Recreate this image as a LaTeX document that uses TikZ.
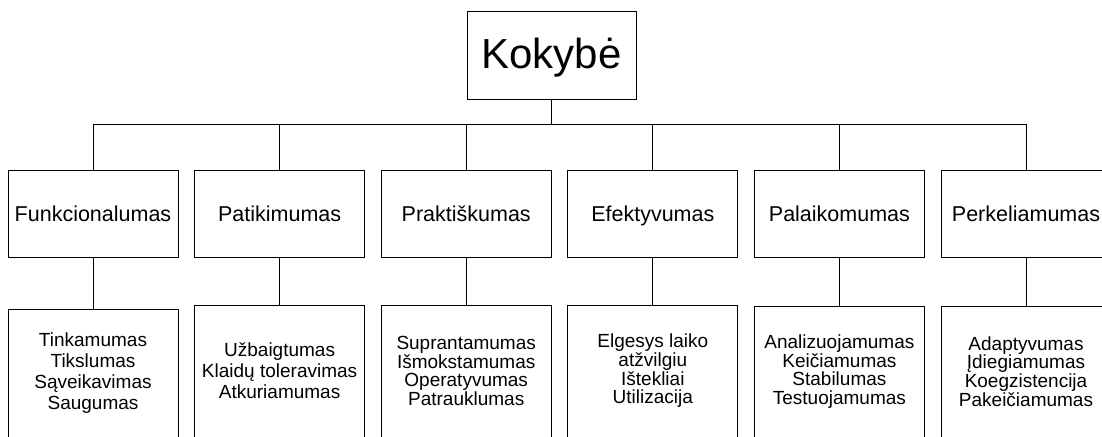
\documentclass[tikz,border=0pt]{standalone}
\usepackage{fontspec}
\setmainfont{Liberation Sans}
\begin{document}
\begin{tikzpicture}[x=1pt,y=-1pt,
  line width=1pt,
  every node/.style={inner sep=0pt, outer sep=0pt},
  rootbox/.style={draw, rectangle, minimum width=169pt, minimum height=87pt,
    text height=30pt, text depth=4pt,
    font=\fontsize{42}{48}\selectfont},
  groupbox/.style={draw, rectangle, minimum width=170pt, minimum height=87pt,
    text height=15.4pt, text depth=0pt,
    font=\fontsize{21.5}{25}\selectfont},
  leafbox/.style={draw, rectangle, minimum width=170pt, align=center,
    font=\fontsize{19}{#1}\selectfont},
  leafbox/.default=18.7,
  link/.style={draw, line width=1pt}]
\path[use as bounding box, clip] (0,0) rectangle (1102,436);

% root
\node[rootbox] (root) at (551.5,55.5) {Kokybė};

% characteristics
\node[groupbox] (c1) at (93,213.5)    {Funkcionalumas};
\node[groupbox] (c2) at (279.6,213.5) {Patikimumas};
\node[groupbox] (c3) at (466.2,213.5) {Praktiškumas};
\node[groupbox] (c4) at (652.8,213.5) {Efektyvumas};
\node[groupbox] (c5) at (839.4,213.5) {Palaikomumas};
\node[groupbox] (c6) at (1026,213.5)  {Perkeliamumas};

% sub-characteristics
\node[leafbox=21, minimum height=128pt] (s1) at (93,373)
  {Tinkamumas\\Tikslumas\\Sąveikavimas\\Saugumas};
\node[leafbox=21, minimum height=132pt] (s2) at (279.6,371)
  {Užbaigtumas\\Klaidų toleravimas\\Atkuriamumas};
\node[leafbox, minimum height=132pt] (s3) at (466.2,371)
  {Suprantamumas\\Išmokstamumas\\Operatyvumas\\Patrauklumas};
\node[leafbox, minimum height=132pt] (s4) at (652.8,371)
  {Elgesys laiko\\atžvilgiu\\Ištekliai\\Utilizacija};
\node[leafbox, minimum height=131pt] (s5) at (839.4,371.5)
  {Analizuojamumas\\Keičiamumas\\Stabilumas\\Testuojamumas};
\node[leafbox, minimum height=131pt] (s6) at (1026,371.5)
  {Adaptyvumas\\Įdiegiamumas\\Koegzistencija\\Pakeičiamumas};

% connectors
\coordinate (bus) at (0,124);
\path[link] (root.south) -- (root.south |- bus);
\path[link] (c1.north) -- (c1.north |- bus) -- (c6.north |- bus) -- (c6.north);
\foreach \c in {c2,c3,c4,c5}
  \path[link] (\c.north) -- (\c.north |- bus);
\foreach \i in {1,...,6}
  \path[link] (c\i.south) -- (s\i.north);
\end{tikzpicture}
\end{document}
